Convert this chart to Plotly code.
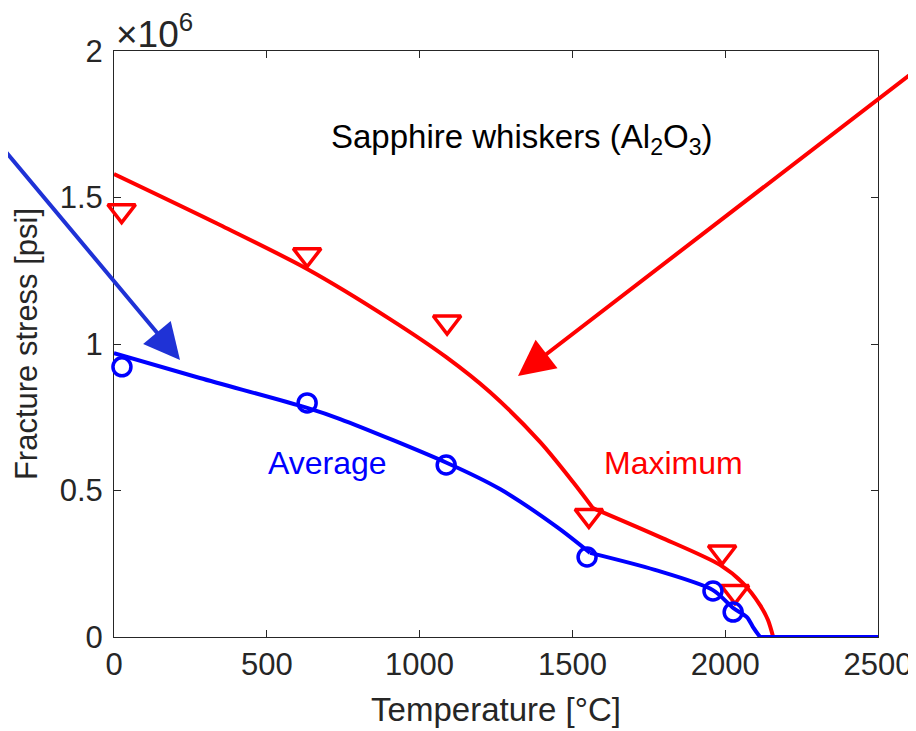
import plotly.graph_objects as go

# Measured data points
max_T = [25, 632, 1090, 1554, 1990, 2032]
max_S = [1.455e6, 1.305e6, 1.075e6, 0.415e6, 0.29e6, 0.155e6]
avg_T = [26, 632, 1087, 1548, 1960, 2026]
avg_S = [0.922e6, 0.799e6, 0.587e6, 0.273e6, 0.157e6, 0.085e6]

# Fitted curves
max_curve_T = [0, 347, 632, 903, 1086, 1230, 1394, 1502, 1567, 1787, 1983, 2058, 2114, 2140, 2157, 2500]
max_curve_S = [1.580e6, 1.406e6, 1.256e6, 1.085e6, 0.956e6, 0.836e6, 0.666e6, 0.529e6, 0.440e6,
               0.341e6, 0.246e6, 0.184e6, 0.109e6, 0.058e6, 0.0, 0.0]
avg_curve_T = [0, 281, 632, 740, 1090, 1263, 1450, 1558, 1770, 1960, 2026, 2071, 2091, 2114, 2500]
avg_curve_S = [0.969e6, 0.884e6, 0.782e6, 0.744e6, 0.594e6, 0.505e6, 0.375e6, 0.287e6,
               0.229e6, 0.160e6, 0.099e6, 0.068e6, 0.034e6, 0.0, 0.0]
# index of the kink near 1560 °C in each curve
max_kink = 8
avg_kink = 7

x_ticks = [0, 500, 1000, 1500, 2000, 2500]
y_ticks = [0, 0.5e6, 1e6, 1.5e6, 2e6]
y_ticktext = ["0", "0.5", "1", "1.5", "2"]

RED = "#ff0000"
BLUE = "#0000ff"
AX = "#262626"
FONT = "Liberation Sans, Arial, sans-serif"
LW = 4

fig = go.Figure()
for cT, cS, k, col in [(max_curve_T, max_curve_S, max_kink, RED),
                       (avg_curve_T, avg_curve_S, avg_kink, BLUE)]:
    n = len(cT)
    segments = [(0, k + 1, "spline"), (k, n - 1, "spline"), (n - 2, n, "linear")]
    for a, b, shp in segments:
        line = dict(color=col, width=LW, shape=shp)
        if shp == "spline":
            line["smoothing"] = 0.8
        fig.add_trace(go.Scatter(x=cT[a:b], y=cS[a:b], mode="lines", cliponaxis=False,
                                 line=line, showlegend=False))

fig.add_trace(go.Scatter(x=max_T, y=max_S, mode="markers", cliponaxis=False,
                         marker=dict(symbol="triangle-down-open", size=24, color=RED,
                                     line=dict(width=3.5, color=RED)), showlegend=False))
fig.add_trace(go.Scatter(x=avg_T, y=avg_S, mode="markers", cliponaxis=False,
                         marker=dict(symbol="circle-open", size=18, color=BLUE,
                                     line=dict(width=3.5, color=BLUE)), showlegend=False))

fig.update_layout(
    width=916, height=731,
    margin=dict(l=106, r=46, t=43, b=102),
    paper_bgcolor="white", plot_bgcolor="white",
    font=dict(family=FONT, size=31, color=AX),
    xaxis=dict(range=[0, 2500], tickvals=x_ticks, ticks="inside", ticklen=7,
               tickcolor=AX, showline=True, linecolor=AX, linewidth=1, mirror="ticks",
               showgrid=False, zeroline=False, tickfont=dict(size=31, color=AX),
               layer="below traces",
               title=dict(text="Temperature [°C]", font=dict(size=33, color=AX), standoff=16)),
    yaxis=dict(range=[0, 2e6], tickvals=y_ticks, ticktext=y_ticktext, ticks="inside", ticklen=7,
               tickcolor=AX, showline=True, linecolor=AX, linewidth=1, mirror="ticks",
               showgrid=False, zeroline=False, tickfont=dict(size=31, color=AX),
               ticklabelstandoff=4, layer="below traces",
               title=dict(text="Fracture stress [psi]", font=dict(size=31, color=AX), standoff=12)),
)

fig.add_annotation(xref="paper", yref="paper", x=0.0, y=1.0, xanchor="left", yanchor="bottom",
                   text="×10<sup>6</sup>", showarrow=False, font=dict(size=37, color=AX), yshift=-6)
fig.add_annotation(x=1335, y=1.70e6, text="Sapphire whiskers (Al<sub>2</sub>O<sub>3</sub>)",
                   showarrow=False, font=dict(size=33, color="black"))
fig.add_annotation(x=697, y=0.594e6, text="Average", showarrow=False,
                   font=dict(size=32, color=BLUE))
fig.add_annotation(x=1832, y=0.594e6, text="Maximum", showarrow=False,
                   font=dict(size=32, color=RED))
# arrows (tails given in data coordinates, beyond the plot frame)
fig.add_annotation(x=216, y=0.945e6, ax=-438, ay=1.761e6, axref="x", ayref="y", text="",
                   showarrow=True, arrowhead=2, arrowsize=1.8, arrowwidth=4,
                   arrowcolor="#1f32d6")
fig.add_annotation(x=1322, y=0.891e6, ax=2703, ay=1.998e6, axref="x", ayref="y", text="",
                   showarrow=True, arrowhead=2, arrowsize=1.8, arrowwidth=4, arrowcolor=RED)

fig.write_html("out.html")
